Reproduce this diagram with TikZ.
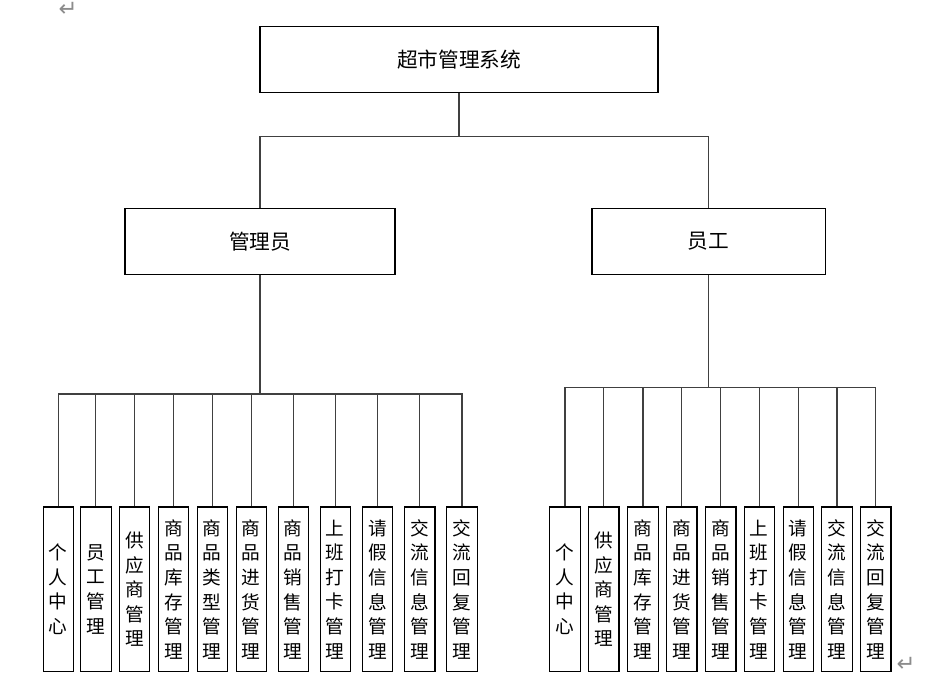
\documentclass[tikz,border=0pt]{standalone}
\usepackage{fontspec}
\newfontfamily\cjk{Noto Sans CJK SC}
\newfontfamily\symb{DejaVu Sans}
\usetikzlibrary{calc}

\begin{document}
\begin{tikzpicture}[x=0.75pt,y=-0.75pt]
        \tikzset{box/.style={draw, line width=0.8pt, inner sep=0pt, font=\cjk\fontsize{15.5}{18}\selectfont},
                 leaf/.style={draw, line width=0.8pt, inner sep=0pt, minimum width=22.9pt, minimum height=123.5pt,
                              align=center, font=\cjk\fontsize{14}{18.45}\selectfont},
                 link/.style={line width=0.8pt, black!75},
                 parmark/.style={text=black!45, font=\symb\fontsize{17}{17}\selectfont}}
        \useasboundingbox (0,0) rectangle (934,679);

        % system and roles
        \node[box, minimum width=298.5pt, minimum height=49.5pt] (sys) at (459,59.7) {超市管理系统};
        \node[box, minimum width=202.5pt, minimum height=49.5pt] (adm) at (260,241.3) {管理员};
        \node[box, minimum width=174.8pt, minimum height=49.5pt] (emp) at (708.5,241.3) {员工};

        \draw[link] (sys.south) -- (459,136.7) coordinate (tbar);
        \draw[link] (adm.north) |- (tbar) -| (emp.north);

        % admin leaves
        \node[leaf] (a1) at (58.3,589.3) {个\\人\\中\\心};
        \node[leaf] (a2) at (95.8,589.3) {员\\工\\管\\理};
        \node[leaf] (a3) at (134.5,589.3) {供\\应\\商\\管\\理};
        \node[leaf] (a4) at (173.5,589.3) {商\\品\\库\\存\\管\\理};
        \node[leaf] (a5) at (212.3,589.3) {商\\品\\类\\型\\管\\理};
        \node[leaf] (a6) at (251.3,589.3) {商\\品\\进\\货\\管\\理};
        \node[leaf] (a7) at (293.3,589.3) {商\\品\\销\\售\\管\\理};
        \node[leaf] (a8) at (335.3,589.3) {上\\班\\打\\卡\\管\\理};
        \node[leaf] (a9) at (377.5,589.3) {请\\假\\信\\息\\管\\理};
        \node[leaf] (a10) at (419.7,589.3) {交\\流\\信\\息\\管\\理};
        \node[leaf] (a11) at (462,589.3) {交\\流\\回\\复\\管\\理};

        \draw[link] (adm.south) -- (260,394) coordinate (lbar);
        \draw[link] (a1.north) |- (lbar) (a2.north) |- (lbar) (a3.north) |- (lbar)
                    (a4.north) |- (lbar) (a5.north) |- (lbar) (a6.north) |- (lbar)
                    (a7.north) |- (lbar) (a8.north) |- (lbar) (a9.north) |- (lbar)
                    (a10.north) |- (lbar) (a11.north) |- (lbar);

        % employee leaves
        \node[leaf] (e1) at (565,589.3) {个\\人\\中\\心};
        \node[leaf] (e2) at (603.7,589.3) {供\\应\\商\\管\\理};
        \node[leaf] (e3) at (643,589.3) {商\\品\\库\\存\\管\\理};
        \node[leaf] (e4) at (681.7,589.3) {商\\品\\进\\货\\管\\理};
        \node[leaf] (e5) at (720.7,589.3) {商\\品\\销\\售\\管\\理};
        \node[leaf] (e6) at (759.3,589.3) {上\\班\\打\\卡\\管\\理};
        \node[leaf] (e7) at (798.3,589.3) {请\\假\\信\\息\\管\\理};
        \node[leaf] (e8) at (837,589.3) {交\\流\\信\\息\\管\\理};
        \node[leaf] (e9) at (875.7,589.3) {交\\流\\回\\复\\管\\理};

        \draw[link] (emp.south) -- (708.5,387.3) coordinate (rbar);
        \draw[link] (e1.north) |- (rbar) (e2.north) |- (rbar) (e3.north) |- (rbar)
                    (e4.north) |- (rbar) (e5.north) |- (rbar) (e6.north) |- (rbar)
                    (e7.north) |- (rbar) (e8.north) |- (rbar) (e9.north) |- (rbar);

        % paragraph marks
        \node[parmark] (pm1) at (68,9) {↵};
        \node[parmark] (pm2) at (906,664) {↵};
\end{tikzpicture}
\end{document}
